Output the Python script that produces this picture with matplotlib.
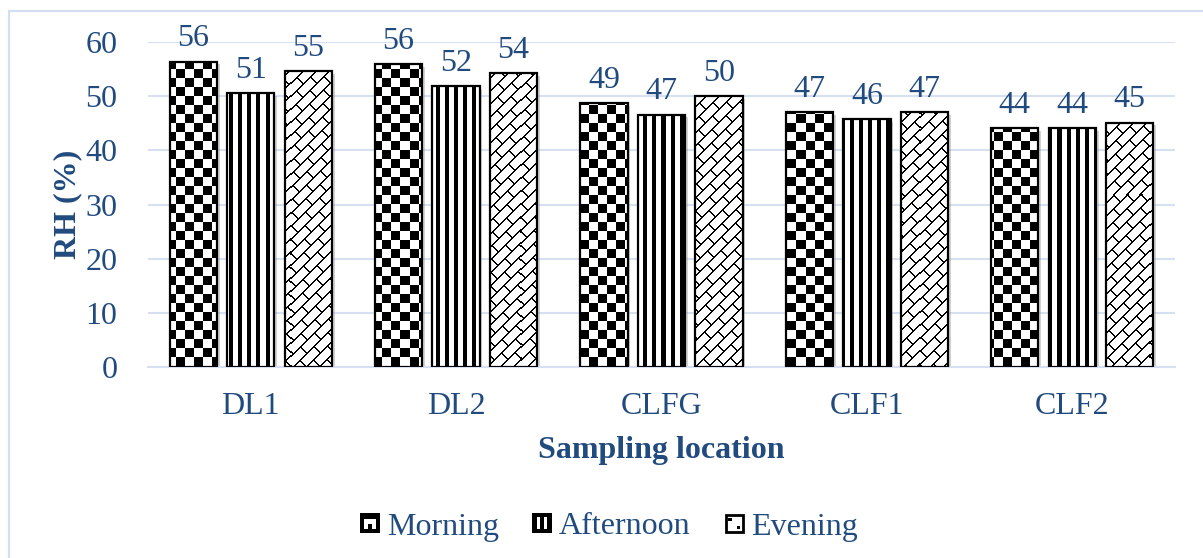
import numpy as np
import matplotlib
matplotlib.use("Agg")
import matplotlib.pyplot as plt
from matplotlib.patches import Rectangle, Patch
from matplotlib.legend_handler import HandlerBase
import matplotlib.patheffects as pe

# ---- data ----
categories = ["DL1", "DL2", "CLFG", "CLF1", "CLF2"]
series_names = ["Morning", "Afternoon", "Evening"]
morning = [56.4, 55.9, 48.7, 47.0, 44.1]
afternoon = [50.6, 51.8, 46.6, 45.7, 44.1]
evening = [54.6, 54.2, 50.0, 47.0, 45.1]
morning_labels = ["56", "56", "49", "47", "44"]
afternoon_labels = ["51", "52", "47", "46", "44"]
evening_labels = ["55", "54", "50", "47", "45"]
yticks = [0, 10, 20, 30, 40, 50, 60]

TXT = "#214B7E"
GRID = "#D6E0F1"
FONT = "Liberation Serif"
FS = 23
plt.rcParams["font.family"] = [FONT, "DejaVu Serif"]

FW, FH = 1203, 558
fig = plt.figure(figsize=(FW / 100, FH / 100), dpi=100)
fig.patch.set_facecolor("white")
L, R_, T, B = 148 / FW, 1175 / FW, 1 - 42 / FH, 1 - 367 / FH
ax = fig.add_axes([L, B, R_ - L, T - B])

# outer light-blue frame (top & left visible)
fig.add_artist(Rectangle((9 / FW, -0.1), 1.2, 1 - 11 / FH + 0.1, transform=fig.transFigure,
                         fill=False, edgecolor="#D3DEF0", linewidth=1.6))

x = np.arange(len(categories))
bw = 0.23
step = 0.28
all_vals = [morning, afternoon, evening]
all_labels = [morning_labels, afternoon_labels, evening_labels]

# pattern images in axes-pixel grid
AW = int(round((R_ - L) * FW))
AH = int(round((T - B) * FH))
yy, xx = np.mgrid[0:AH, 0:AW]
checker = (((xx // 9) + (yy // 9)) % 2 == 1).astype(float)
stripes = ((xx % 9) >= 4).astype(float)
s = xx + yy
P, Q = 13, 28
k = s // P
lines = (s % P) < 2
ticks = ((xx - yy + (k % 2) * (Q // 2)) % Q) < 2
brick = (~(lines | ticks)).astype(float)
patterns = [checker, stripes, brick]

for i, (vals, labs, pat) in enumerate(zip(all_vals, all_labels, patterns)):
    pos = x + (i - 1) * step
    bars = ax.bar(pos, vals, width=bw, color="white", edgecolor="none", zorder=2)
    for b in bars:
        b.set_path_effects([pe.SimplePatchShadow(offset=(2, -2), shadow_rgbFace="gray", alpha=0.35),
                            pe.Normal()])
        im = ax.imshow(pat, extent=(0, 1, 0, 1), transform=ax.transAxes, cmap="gray",
                       vmin=0, vmax=1, interpolation="nearest", aspect="auto", zorder=3)
        im.set_clip_path(b)
    outline = ax.bar(pos, vals, width=bw, fill=False, edgecolor="black", linewidth=1.6, zorder=4)
    ax.bar_label(outline, labels=labs, padding=6, fontsize=FS, color=TXT)

ax.set_xlim(-0.5, len(categories) - 0.5)
ax.set_ylim(0, 60)
ax.set_yticks(yticks)
ax.set_xticks(x)
ax.set_xticklabels(categories)
ax.tick_params(axis="both", length=0, labelsize=FS, labelcolor=TXT)
ax.tick_params(axis="y", pad=22)
ax.tick_params(axis="x", pad=18)
ax.set_axisbelow(True)
ax.yaxis.grid(True, color=GRID, linewidth=1.5)
for sp in ["top", "right", "left"]:
    ax.spines[sp].set_visible(False)
ax.spines["bottom"].set_color(GRID)
ax.spines["bottom"].set_linewidth(1.5)
ax.set_ylabel("RH (%)", fontsize=23, fontweight="bold", color=TXT, labelpad=2)
ax.set_xlabel("Sampling location", fontsize=23, fontweight="bold", color=TXT, labelpad=11)


class IconHandler(HandlerBase):
    def __init__(self, kind):
        super().__init__()
        self.kind = kind

    def create_artists(self, legend, orig_handle, xdescent, ydescent, width, height, fontsize, trans):
        sz = min(width, height)
        x0 = -xdescent + (width - sz) / 2
        y0 = -ydescent + (height - sz) / 2
        arts = []

        def R(a, b, w, h, fc, ec="none", lw=0):
            arts.append(Rectangle((x0 + a * sz, y0 + b * sz), w * sz, h * sz, facecolor=fc,
                                  edgecolor=ec, linewidth=lw, transform=trans))

        if self.kind == 0:
            R(0, 0, 1, 1, "black")
            R(0.2, 0.2, 0.6, 0.5, "white")
            R(0.4, 0.2, 0.2, 0.25, "black")
        elif self.kind == 1:
            R(0, 0, 1, 1, "black")
            R(0.25, 0.2, 0.15, 0.6, "white")
            R(0.6, 0.2, 0.15, 0.6, "white")
        else:
            R(0.06, 0.06, 0.88, 0.88, "white", "black", 2.0)
            R(0.2, 0.62, 0.16, 0.16, "black")
            R(0.64, 0.22, 0.16, 0.16, "black")
        return arts


handles = [Patch(label=n) for n in series_names]
hmap = {h: IconHandler(i) for i, h in enumerate(handles)}
leg = fig.legend(handles=handles, labels=series_names, handler_map=hmap, loc="center",
                 bbox_to_anchor=(609 / FW, 1 - 527 / FH), ncol=3, frameon=False,
                 fontsize=FS, handlelength=0.62, handleheight=0.62, handletextpad=0.22,
                 columnspacing=1.05)
for t in leg.get_texts():
    t.set_color(TXT)

fig.savefig("out.png", dpi=100)
